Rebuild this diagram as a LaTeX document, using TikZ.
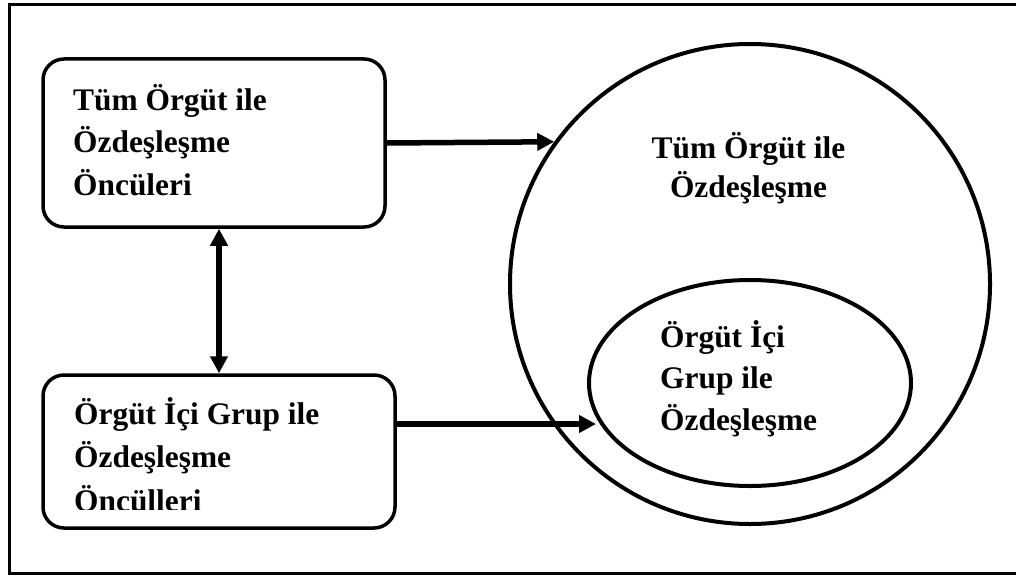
\documentclass[tikz,border=0pt]{standalone}
\usepackage{fontspec}
\setmainfont{Liberation Serif}
\usetikzlibrary{arrows.meta,shapes.geometric}
\tikzset{
  box/.style={draw, line width=3.5pt, rounded corners=21pt, inner sep=0pt},
  ring/.style={draw, line width=4pt, inner sep=0pt},
  lbl/.style={align=left, anchor=base west, inner sep=0pt},
  conn/.style={line width=5.5pt, -{Triangle[length=17pt,width=17pt]}},
  biconn/.style={line width=5.5pt, {Triangle[length=17pt,width=17pt]}-{Triangle[length=17pt,width=17pt]}},
  frame/.style={line width=3pt},
}
\begin{document}
\begin{tikzpicture}[x=1pt,y=-1pt]
\useasboundingbox (0,0) rectangle (1016,575);
\draw[frame] (1016,4.5) -- (9,4.5) -- (9,573.5) -- (1016,573.5);

\node[box, minimum width=342pt, minimum height=168pt] (b1) at (214,143) {};
\node[box, minimum width=352pt, minimum height=153pt] (b2) at (219,451.5) {};
\node[ring, circle, minimum size=480pt] (bc) at (750,284) {};
\node[ring, ellipse, minimum width=322pt, minimum height=206pt] (el) at (750,383) {};

\node[lbl, font=\fontsize{31.4}{42.5}\selectfont\bfseries] (t1) at (73,195) {Tüm Örgüt ile\\Özdeşleşme\\Öncüleri};
\begin{scope}
\clip (b2.north west) rectangle (b2.east |- 0,509.5);
\node[lbl, font=\fontsize{31.4}{43.5}\selectfont\bfseries] (t2) at (74,511) {Örgüt İçi Grup ile\\Özdeşleşme\\Öncülleri};
\end{scope}
\node[lbl, align=center, anchor=base, font=\fontsize{31.4}{38.5}\selectfont\bfseries] (t3) at (748.5,197) {Tüm Örgüt ile\\Özdeşleşme};
\node[lbl, font=\fontsize{31.4}{41.5}\selectfont\bfseries] (t4) at (660,430) {Örgüt İçi\\Grup ile\\Özdeşleşme};

\coordinate (e2) at (596,424);
\draw[conn] (b1.east) -- (bc.144);
\draw[conn] (b2.east |- e2) -- (e2);
\draw[biconn] (b1.south -| b2.north) -- (b2.north);
\end{tikzpicture}
\end{document}
